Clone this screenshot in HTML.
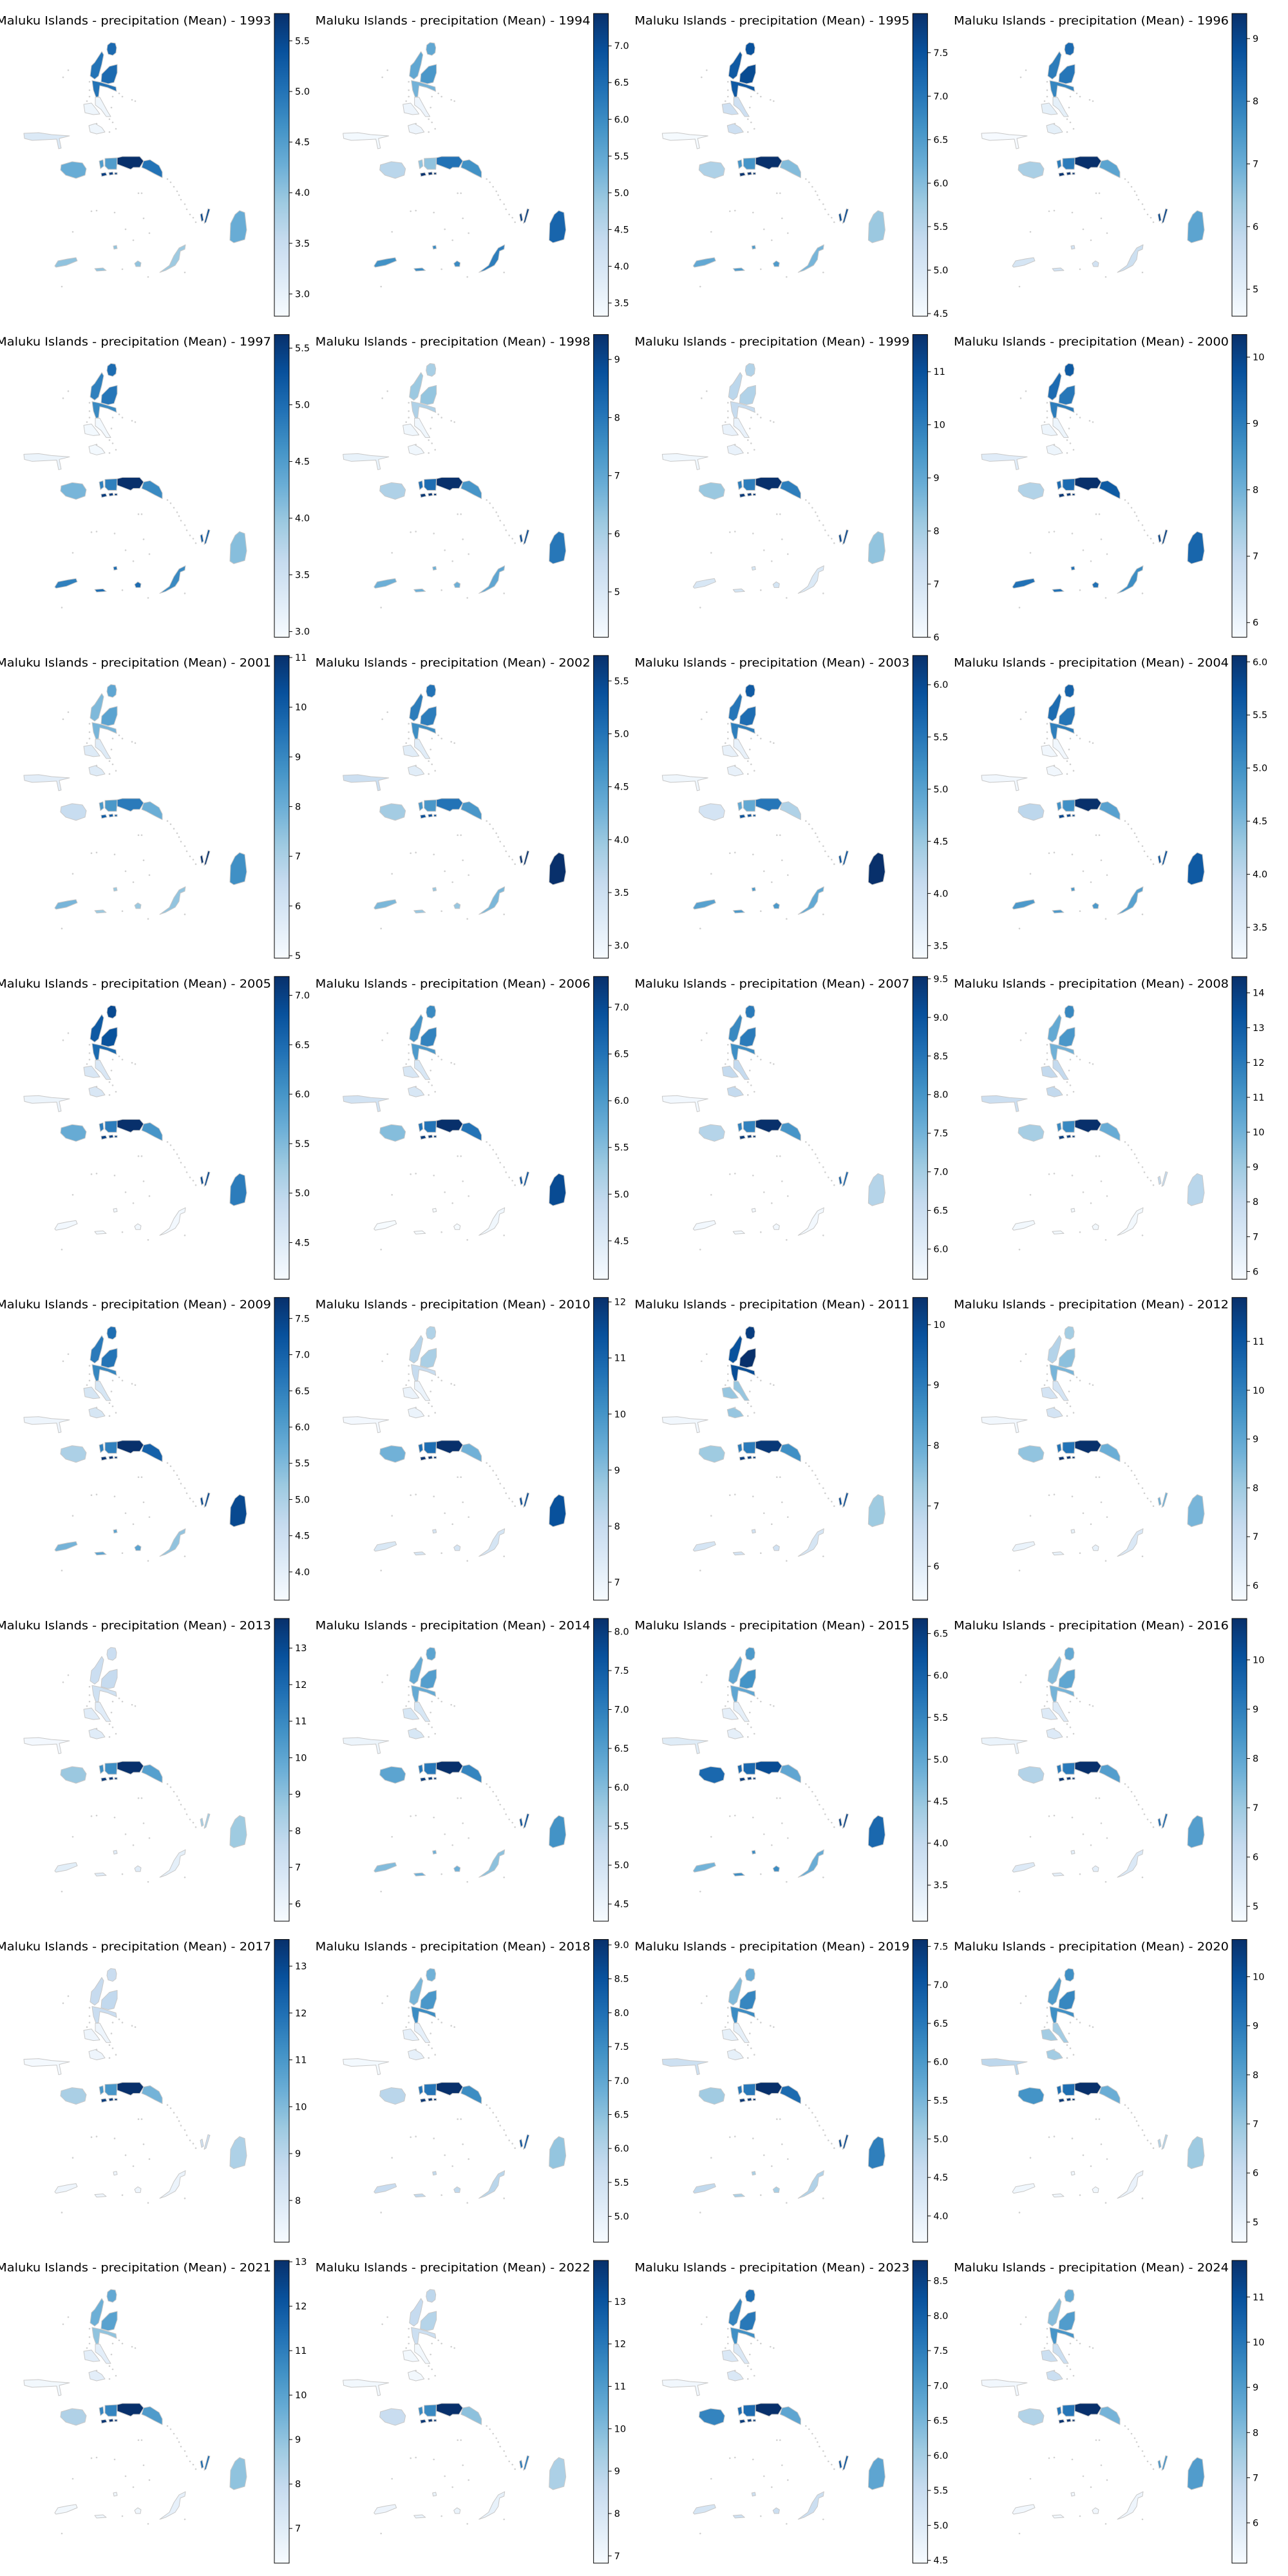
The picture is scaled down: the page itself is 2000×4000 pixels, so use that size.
<!DOCTYPE html>
<html><head><meta charset="utf-8">
<style>
html,body{margin:0;padding:0;background:#fff;}
svg{display:block;}
text{font-family:"DejaVu Sans","Liberation Sans",sans-serif;fill:#000;}
</style></head>
<body>
<svg id="fig" width="2000" height="4000" viewBox="0 0 2000 4000" xmlns="http://www.w3.org/2000/svg">
<rect width="2000" height="4000" fill="#fff"/>
</svg>
<script>
// ---- data ----
const years = [1993,1994,1995,1996,1997,1998,1999,2000,2001,2002,2003,2004,2005,2006,2007,2008,2009,2010,2011,2012,2013,2014,2015,2016,2017,2018,2019,2020,2021,2022,2023,2024];
const regions = ["morotai","halmahera-utara","halmahera-timur","halmahera-tengah","halmahera-selatan","kepulauan-sula","buru","seram-bagian-barat","maluku-tengah","seram-bagian-timur","ambon","kei","aru","wetar","kisar","tanimbar"];
const vmin = [2.78,3.32,4.47,4.57,2.95,4.22,6.0,5.78,4.95,2.88,3.38,3.21,4.13,4.09,5.61,5.78,3.61,6.68,5.44,5.70,5.53,4.28,3.07,4.70,7.11,4.62,3.66,4.59,6.22,6.83,4.46,5.11];
const vmax = [5.77,7.44,7.95,9.40,5.62,9.43,11.70,10.34,11.04,5.74,6.28,6.06,7.19,7.33,9.53,14.47,7.79,12.08,10.45,11.9,13.81,8.17,6.68,10.84,13.57,9.08,7.59,10.76,13.03,13.97,8.79,11.81];
const ticks = [
["3.0","3.5","4.0","4.5","5.0","5.5"],
["3.5","4.0","4.5","5.0","5.5","6.0","6.5","7.0"],
["4.5","5.0","5.5","6.0","6.5","7.0","7.5"],
["5","6","7","8","9"],
["3.0","3.5","4.0","4.5","5.0","5.5"],
["5","6","7","8","9"],
["6","7","8","9","10","11"],
["6","7","8","9","10"],
["5","6","7","8","9","10","11"],
["3.0","3.5","4.0","4.5","5.0","5.5"],
["3.5","4.0","4.5","5.0","5.5","6.0"],
["3.5","4.0","4.5","5.0","5.5","6.0"],
["4.5","5.0","5.5","6.0","6.5","7.0"],
["4.5","5.0","5.5","6.0","6.5","7.0"],
["6.0","6.5","7.0","7.5","8.0","8.5","9.0","9.5"],
["6","7","8","9","10","11","12","13","14"],
["4.0","4.5","5.0","5.5","6.0","6.5","7.0","7.5"],
["7","8","9","10","11","12"],
["6","7","8","9","10"],
["6","7","8","9","10","11"],
["6","7","8","9","10","11","12","13"],
["4.5","5.0","5.5","6.0","6.5","7.0","7.5","8.0"],
["3.5","4.0","4.5","5.0","5.5","6.0","6.5"],
["5","6","7","8","9","10"],
["8","9","10","11","12","13"],
["5.0","5.5","6.0","6.5","7.0","7.5","8.0","8.5","9.0"],
["4.0","4.5","5.0","5.5","6.0","6.5","7.0","7.5"],
["5","6","7","8","9","10"],
["7","8","9","10","11","12","13"],
["7","8","9","10","11","12","13"],
["4.5","5.0","5.5","6.0","6.5","7.0","7.5","8.0","8.5"],
["6","7","8","9","10","11"]
];
// values per year, region order as `regions`
const v1993=[5.1,5.0,5.1,5.0,2.9,3.2,4.3,4.5,5.77,5.0,5.6,5.5,4.3,4.0,4.0,3.9];
const v1994=[5.5,5.5,5.8,5.3,3.5,3.4,4.5,5.0,6.4,5.9,7.4,7.2,6.6,5.9,6.0,6.2];
const v1995=[7.5,7.4,7.6,7.4,5.2,4.5,5.6,6.6,7.95,6.0,7.9,7.6,5.8,6.3,6.5,6.1];
const v1996=[8.3,8.0,8.1,7.8,5.0,4.6,6.2,8.0,9.4,7.2,9.3,9.0,7.2,5.4,5.5,5.6];
const v1997=[5.0,4.8,4.9,4.7,3.0,3.1,4.2,4.8,5.62,4.7,5.5,5.2,4.1,4.8,5.0,4.7];
const v1998=[6.0,6.2,6.3,5.9,4.4,4.6,5.9,8.2,9.43,7.4,9.3,8.9,8.0,6.8,6.8,7.0];
const v1999=[7.8,7.6,7.8,7.4,6.4,6.2,8.2,10.0,11.7,10.0,11.5,11.2,8.3,6.9,7.0,6.8];
const v2000=[9.6,9.3,9.1,9.0,6.0,6.3,7.2,9.3,10.34,9.6,10.2,10.0,9.4,9.2,9.2,8.7];
const v2001=[8.2,7.7,8.3,7.8,5.7,5.6,6.4,8.6,9.3,8.0,10.0,11.0,8.8,7.8,7.3,7.4];
const v2002=[5.0,4.9,4.9,4.7,3.2,3.5,3.9,4.6,5.0,4.6,5.4,5.7,5.74,4.2,4.0,4.2];
const v2003=[5.8,5.5,5.6,5.4,3.6,3.5,3.9,4.9,5.5,4.3,5.9,5.9,6.28,5.0,5.1,4.9];
const v2004=[5.5,5.4,5.3,5.2,3.3,3.3,4.0,5.0,6.06,4.8,5.8,5.7,5.6,4.9,4.9,4.8];
const v2005=[6.9,6.7,6.8,6.5,4.6,4.3,5.7,6.3,7.19,6.0,7.0,6.9,6.3,4.2,4.2,4.2];
const v2006=[6.2,6.1,6.3,6.0,4.6,4.7,5.5,6.5,7.33,6.5,7.2,6.9,7.0,4.1,4.1,4.2];
const v2007=[8.4,8.2,8.4,8.1,6.6,5.7,6.8,8.3,9.53,8.0,9.4,8.8,6.8,5.7,5.7,5.7];
const v2008=[11.5,10.3,11.0,10.0,8.0,7.7,8.8,11.5,14.47,10.2,14.0,8.0,8.3,6.0,6.0,6.0];
const v2009=[6.8,6.6,6.7,6.4,4.3,3.8,5.0,6.5,7.79,7.0,7.7,7.4,7.4,5.6,5.9,5.3];
const v2010=[8.4,8.3,8.5,8.0,7.0,6.8,9.3,10.8,12.08,9.3,12.0,11.5,11.4,7.5,7.6,7.6];
const v2011=[10.2,9.8,10.45,9.9,7.4,5.6,7.3,9.0,10.3,8.6,10.2,9.9,7.3,6.3,6.4,6.3];
const v2012=[7.9,7.6,8.3,8.6,6.8,5.9,8.2,10.3,11.9,8.8,11.8,8.8,8.6,6.1,6.2,6.6];
const v2013=[7.4,7.4,7.6,7.2,6.5,5.7,8.7,10.8,13.81,10.2,13.5,8.5,8.6,6.4,6.5,6.3];
const v2014=[6.4,6.3,6.5,6.3,4.9,4.5,6.4,7.1,8.17,6.9,8.0,7.7,6.7,6.0,6.2,5.9];
const v2015=[5.2,5.0,5.3,5.0,3.4,3.5,5.9,5.9,6.3,5.0,6.5,6.4,5.9,4.8,5.4,4.9];
const v2016=[7.9,7.4,8.0,7.6,5.5,5.1,6.6,9.1,10.84,8.2,10.7,9.5,8.2,5.5,5.3,5.6];
const v2017=[8.6,8.7,8.8,8.6,7.4,7.2,9.3,11.0,13.57,10.2,13.3,8.5,9.2,7.4,7.4,7.5];
const v2018=[6.8,6.7,7.3,7.5,5.0,4.7,5.9,7.9,9.08,7.5,9.0,8.5,6.4,5.7,5.8,5.9];
const v2019=[5.6,5.4,6.3,6.2,4.0,4.5,5.1,6.5,7.59,6.7,7.5,7.2,6.4,4.7,5.0,4.9];
const v2020=[8.5,8.2,8.7,8.5,6.8,6.3,8.4,9.3,10.76,7.7,10.6,6.5,6.9,4.8,4.8,5.0];
const v2021=[9.8,9.6,10.0,9.0,6.9,6.4,8.4,10.8,13.03,10.2,12.9,11.5,9.0,6.4,6.5,6.8];
const v2022=[8.8,8.6,9.0,8.4,7.0,7.0,8.5,11.5,13.97,9.8,13.8,12.0,9.2,7.2,7.3,7.4];
const v2023=[7.7,7.4,7.6,7.2,5.1,4.6,7.4,7.8,8.79,6.8,8.6,8.2,6.8,5.2,5.4,5.4];
const v2024=[8.5,8.0,9.0,9.2,6.6,5.3,7.2,10.0,11.81,8.3,11.7,9.2,9.0,5.3,5.3,5.4];
const values=[v1993,v1994,v1995,v1996,v1997,v1998,v1999,v2000,v2001,v2002,v2003,v2004,v2005,v2006,v2007,v2008,v2009,v2010,v2011,v2012,v2013,v2014,v2015,v2016,v2017,v2018,v2019,v2020,v2021,v2022,v2023,v2024];

// ---- geometry (panel-local) ----
const shapes = {
 "morotai":["M167,70 L172,66 L179,67 L181,74 L180,82 L175,86 L168,84 L166,77 Z"],
 "halmahera-utara":["M147,97 L158,80 L161,85 L158,100 L153,118 L147,123 L140,118 L142,102 Z"],
 "halmahera-timur":["M158,115 L170,103 L182,100 L182,113 L177,128 L168,130 L157,127 Z"],
 "halmahera-tengah":["M143,125 L157,128 L180,135 L181,142 L167,136 L155,133 L153,150 L149,151 L145,140 Z"],
 "halmahera-selatan":["M148,151 L155,151 L167,173 L172,181 L165,181 L157,170 L148,163 Z","M130,162 L142,160 L150,170 L155,177 L145,178 L132,175 Z","M138,195 L148,192 L158,198 L163,205 L150,208 L140,205 Z"],
 "kepulauan-sula":["M37,207 L60,206 L80,209 L108,211 L92,215 L95,230 L91,231 L88,216 L70,217 L50,218 L38,215 Z"],
 "buru":["M95,256 L112,251 L128,253 L134,262 L132,272 L118,277 L102,272 L94,264 Z"],
 "seram-bagian-barat":["M163,246 L182,245 L181,263 L168,263 L163,258 Z","M154,250 L160,248 L161,258 L156,262 Z"],
 "maluku-tengah":["M182,245 L190,243 L217,243 L223,250 L217,260 L207,260 L203,263 L190,258 L182,255 Z"],
 "seram-bagian-timur":["M223,250 L233,248 L247,257 L252,267 L252,276 L240,270 L227,263 L220,260 Z"],
 "ambon":["M157,269 L164,268 L166,272 L158,274 Z","M169,268 L175,267 L176,271 L170,272 Z","M178,268 L182,268 L182,271 L178,271 Z"],
 "kei":["M323,324 L326,325 L320,345 L317,347 Z","M311,333 L314,331 L316,342 L313,344 Z"],
 "aru":["M372,327 L380,330 L383,357 L380,372 L363,377 L357,373 L358,347 L365,333 Z"],
 "wetar":["M85,413 L90,405 L105,402 L118,400 L120,405 L103,412 L87,415 Z"],
 "kisar":["M209,409 L214,405 L219,408 L218,414 L211,414 Z","M147,417 L160,416 L165,420 L150,421 Z","M176,382 L181,381 L182,386 L177,387 Z"],
 "tanimbar":["M248,423 L263,412 L270,397 L278,385 L288,380 L287,387 L280,390 L278,403 L272,412 L257,420 Z"]
};
// small grey islets
const islets = [[106,109],[98,120],[139,127],[139,140],[139,150],[135,157],[175,150],[185,145],[190,150],[205,155],[210,157],[173,167],[170,185],[175,190],[150,192],[180,200],[170,205],[137,173],[260,278],[265,283],[270,290],[275,297],[278,303],[281,310],[287,317],[290,325],[295,333],[300,338],[304,345],[220,300],[215,300],[142,328],[150,327],[232,362],[207,373],[195,356],[223,339],[287,423],[96,445],[113,360],[178,330],[230,430],[190,418]];

// ---- colormap (Blues) ----
const cmapStops=["#f7fbff","#deebf7","#c6dbef","#9ecae1","#6baed6","#4292c6","#2171b5","#08519c","#08306b"];
function hex2rgb(h){return [1,3,5].map(i=>parseInt(h.substr(i,2),16));}
function blues(t){t=Math.max(0,Math.min(1,t));const p=t*8;const i=Math.min(7,Math.floor(p));const f=p-i;const a=hex2rgb(cmapStops[i]),b=hex2rgb(cmapStops[i+1]);return "rgb("+a.map((x,k)=>Math.round(x+(b[k]-x)*f)).join(",")+")";}

const NS="http://www.w3.org/2000/svg";
const svg=document.getElementById("fig");
function mk(tag,attrs,parent){const e=document.createElementNS(NS,tag);for(const k in attrs)e.setAttribute(k,attrs[k]);parent.appendChild(e);return e;}

// gradient
const defs=mk("defs",{},svg);
const grad=mk("linearGradient",{id:"bluesGrad",x1:"0",y1:"1",x2:"0",y2:"0"},defs);
cmapStops.forEach((c,i)=>mk("stop",{offset:(i/8).toFixed(3),"stop-color":c},grad));

const COLW=495.67, ROWH=498.43;
const CB_X=426, CB_W=23, CB_TOP=21, CB_BOT=491;

years.forEach((yr,idx)=>{
  const col=idx%4,row=Math.floor(idx/4);
  const g=mk("g",{transform:`translate(${(col*COLW).toFixed(2)},${(row*ROWH).toFixed(2)})`},svg);
  
  
  const t=mk("text",{x:-6,y:38,"font-size":"17.5",textLength:"427",lengthAdjust:"spacingAndGlyphs"},g);
  t.textContent="Maluku Islands - precipitation (Mean) - "+yr;
  
  
  const lo=vmin[idx],hi=vmax[idx];
  const color=v=>blues((v-lo)/(hi-lo));
  const ig=mk("g",{},g);
  
  
  islets.forEach(p=>mk("circle",{cx:p[0],cy:p[1],r:1.3,fill:"#d0d0d0"},ig));
  regions.forEach((r,ri)=>{
    const val=values[idx][ri];
    shapes[r].forEach(d=>{
      const p=mk("path",{d:d,fill:color(val),stroke:"#c8c8c8","stroke-width":"1","stroke-linejoin":"round"},g);
      
      
    });
  });
  const cb=mk("g",{},g);
  
  
  mk("rect",{x:CB_X,y:CB_TOP,width:CB_W,height:CB_BOT-CB_TOP,fill:"url(#bluesGrad)",stroke:"#000","stroke-width":"1"},cb);
  const yScale=v=>CB_BOT-(v-lo)/(hi-lo)*(CB_BOT-CB_TOP);
  ticks[idx].forEach(lab=>{
    const y=yScale(parseFloat(lab));
    mk("line",{x1:CB_X+CB_W,x2:CB_X+CB_W+5,y1:y,y2:y,stroke:"#000","stroke-width":"1"},cb);
    const tt=mk("text",{x:CB_X+CB_W+9,y:y+5,"font-size":"14.5"},cb);
    tt.textContent=lab;
    
    
  });
});
</script>
</body></html>
